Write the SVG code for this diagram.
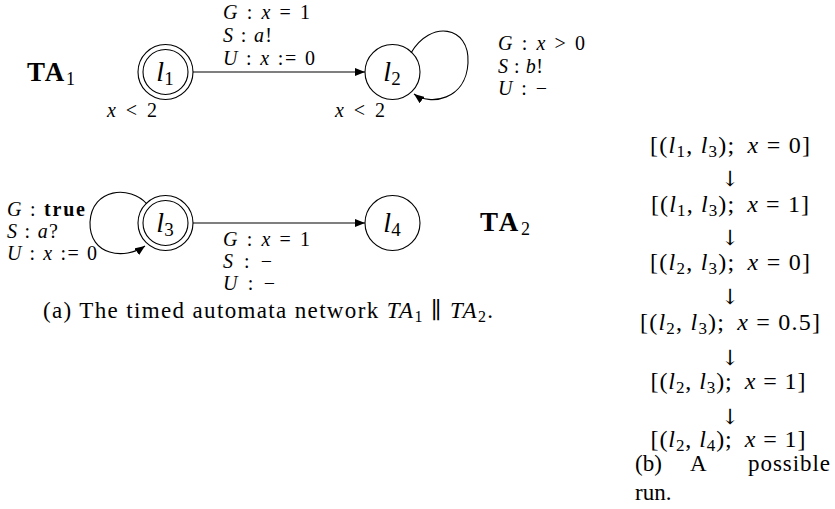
<svg xmlns="http://www.w3.org/2000/svg" width="835" height="509" viewBox="0 0 835 509">
  <style>
    text { font-family: "Liberation Serif", "DejaVu Serif", serif; fill: #000; }
    .i { font-style: italic; }
    .b { font-weight: bold; }
    .lbl { font-size: 20px; }
    .row { font-size: 24px; }
    .cap { font-size: 23px; }
    .name { font-size: 27px; }
    .loc { font-size: 28px; }
    .ring { fill: none; stroke: #000; stroke-width: 1.1; }
    .edge { fill: none; stroke: #000; stroke-width: 1.1; }
    .arr { font-family: "DejaVu Serif", serif; font-size: 21px; }
  </style>
  <defs>
    <marker id="tip" viewBox="0 0 10 8" refX="10" refY="4" markerWidth="10" markerHeight="8" orient="auto" markerUnits="userSpaceOnUse">
      <path d="M0,0 L10,4 L0,8 z" fill="#000"/>
    </marker>
  </defs>

  <!-- automaton names -->
  <text class="name b" x="27" y="81" textLength="48">TA<tspan font-weight="normal" font-size="18" dy="4">1</tspan></text>
  <text class="name b" x="480" y="231" textLength="50">TA<tspan font-weight="normal" font-size="18" dy="4">2</tspan></text>

  <!-- locations -->
  <g id="l1">
    <circle class="ring" cx="165.5" cy="72" r="27.5"/>
    <circle class="ring" cx="165.5" cy="72" r="22.5"/>
    <text class="loc" x="165" y="81" text-anchor="middle"><tspan class="i">l</tspan><tspan font-size="19" dy="4">1</tspan></text>
    <text class="lbl" x="107" y="117" textLength="50"><tspan class="i">x</tspan> &lt; 2</text>
  </g>
  <g id="l2">
    <circle class="ring" cx="392.5" cy="72" r="27.5"/>
    <text class="loc" x="392" y="81" text-anchor="middle"><tspan class="i">l</tspan><tspan font-size="19" dy="4">2</tspan></text>
    <text class="lbl" x="335" y="117" textLength="50"><tspan class="i">x</tspan> &lt; 2</text>
  </g>
  <g id="l3">
    <circle class="ring" cx="165.5" cy="223" r="27.5"/>
    <circle class="ring" cx="165.5" cy="223" r="22.5"/>
    <text class="loc" x="165" y="232" text-anchor="middle"><tspan class="i">l</tspan><tspan font-size="19" dy="4">3</tspan></text>
  </g>
  <g id="l4">
    <circle class="ring" cx="392.5" cy="223" r="27.5"/>
    <text class="loc" x="392" y="232" text-anchor="middle"><tspan class="i">l</tspan><tspan font-size="19" dy="4">4</tspan></text>
  </g>

  <!-- transitions -->
  <g id="edges">
    <path class="edge" d="M193,72 L365,72" marker-end="url(#tip)"/>
    <path class="edge" d="M411,53 C430,20 470,25 468,63 C466,100 430,106 414,94" marker-end="url(#tip)"/>
    <path class="edge" d="M193,223 L365,223" marker-end="url(#tip)"/>
    <path class="edge" d="M147,204 C130,185 92,188 90,222 C89,256 125,260 145,246" marker-end="url(#tip)"/>
  </g>

  <!-- transition labels -->
  <g id="lab-l1-l2" class="lbl">
    <text x="223" y="19" textLength="87"><tspan class="i">G</tspan> : <tspan class="i">x</tspan> = 1</text>
    <text x="223" y="42" textLength="49"><tspan class="i">S</tspan> : <tspan class="i">a</tspan>!</text>
    <text x="223" y="65" textLength="92"><tspan class="i">U</tspan> : <tspan class="i">x</tspan> := 0</text>
  </g>
  <g id="lab-l2-l2" class="lbl">
    <text x="498" y="50" textLength="87"><tspan class="i">G</tspan> : <tspan class="i">x</tspan> &gt; 0</text>
    <text x="498" y="73" textLength="45"><tspan class="i">S</tspan> : <tspan class="i">b</tspan>!</text>
    <text x="498" y="95" textLength="49"><tspan class="i">U</tspan> : −</text>
  </g>
  <g id="lab-l3-l3" class="lbl">
    <text x="7" y="216" textLength="78"><tspan class="i">G</tspan> : <tspan class="b">true</tspan></text>
    <text x="7" y="238" textLength="51"><tspan class="i">S</tspan> : <tspan class="i">a</tspan>?</text>
    <text x="7" y="260" textLength="90"><tspan class="i">U</tspan> : <tspan class="i">x</tspan> := 0</text>
  </g>
  <g id="lab-l3-l4" class="lbl">
    <text x="223" y="246" textLength="87"><tspan class="i">G</tspan> : <tspan class="i">x</tspan> = 1</text>
    <text x="223" y="268" textLength="49"><tspan class="i">S</tspan> : −</text>
    <text x="223" y="290" textLength="52"><tspan class="i">U</tspan> : −</text>
  </g>

  <!-- caption (a) -->
  <text class="cap" x="43" y="318" textLength="450">(a) The timed automata network <tspan class="i">TA</tspan><tspan font-size="16" dy="4">1</tspan><tspan dy="-4"> ∥ </tspan><tspan class="i">TA</tspan><tspan font-size="16" dy="4">2</tspan><tspan dy="-4">.</tspan></text>

  <!-- run -->
  <g id="run" class="row" text-anchor="middle">
    <text x="730" y="153" textLength="160">[(<tspan class="i">l</tspan><tspan font-size="17" dy="4">1</tspan><tspan dy="-4">, </tspan><tspan class="i">l</tspan><tspan font-size="17" dy="4">3</tspan><tspan dy="-4">);</tspan><tspan class="i" dx="12">x</tspan> = 0]</text>
    <text x="730" y="212" textLength="158">[(<tspan class="i">l</tspan><tspan font-size="17" dy="4">1</tspan><tspan dy="-4">, </tspan><tspan class="i">l</tspan><tspan font-size="17" dy="4">3</tspan><tspan dy="-4">);</tspan><tspan class="i" dx="12">x</tspan> = 1]</text>
    <text x="730" y="270" textLength="160">[(<tspan class="i">l</tspan><tspan font-size="17" dy="4">2</tspan><tspan dy="-4">, </tspan><tspan class="i">l</tspan><tspan font-size="17" dy="4">3</tspan><tspan dy="-4">);</tspan><tspan class="i" dx="12">x</tspan> = 0]</text>
    <text x="730" y="330" textLength="180">[(<tspan class="i">l</tspan><tspan font-size="17" dy="4">2</tspan><tspan dy="-4">, </tspan><tspan class="i">l</tspan><tspan font-size="17" dy="4">3</tspan><tspan dy="-4">);</tspan><tspan class="i" dx="12">x</tspan> = 0.5]</text>
    <text x="728" y="389" textLength="155">[(<tspan class="i">l</tspan><tspan font-size="17" dy="4">2</tspan><tspan dy="-4">, </tspan><tspan class="i">l</tspan><tspan font-size="17" dy="4">3</tspan><tspan dy="-4">);</tspan><tspan class="i" dx="12">x</tspan> = 1]</text>
    <text x="728" y="447" textLength="155">[(<tspan class="i">l</tspan><tspan font-size="17" dy="4">2</tspan><tspan dy="-4">, </tspan><tspan class="i">l</tspan><tspan font-size="17" dy="4">4</tspan><tspan dy="-4">);</tspan><tspan class="i" dx="12">x</tspan> = 1]</text>
    <text class="arr" x="730" y="186">↓</text>
    <text class="arr" x="730" y="245">↓</text>
    <text class="arr" x="730" y="304">↓</text>
    <text class="arr" x="730" y="365">↓</text>
    <text class="arr" x="730" y="424">↓</text>
  </g>

  <!-- caption (b) -->
  <g id="cap-b" class="cap">
    <text x="635" y="471">(b)</text>
    <text x="690" y="471">A</text>
    <text x="748" y="471" textLength="82">possible</text>
    <text x="635" y="500">run.</text>
  </g>
</svg>
